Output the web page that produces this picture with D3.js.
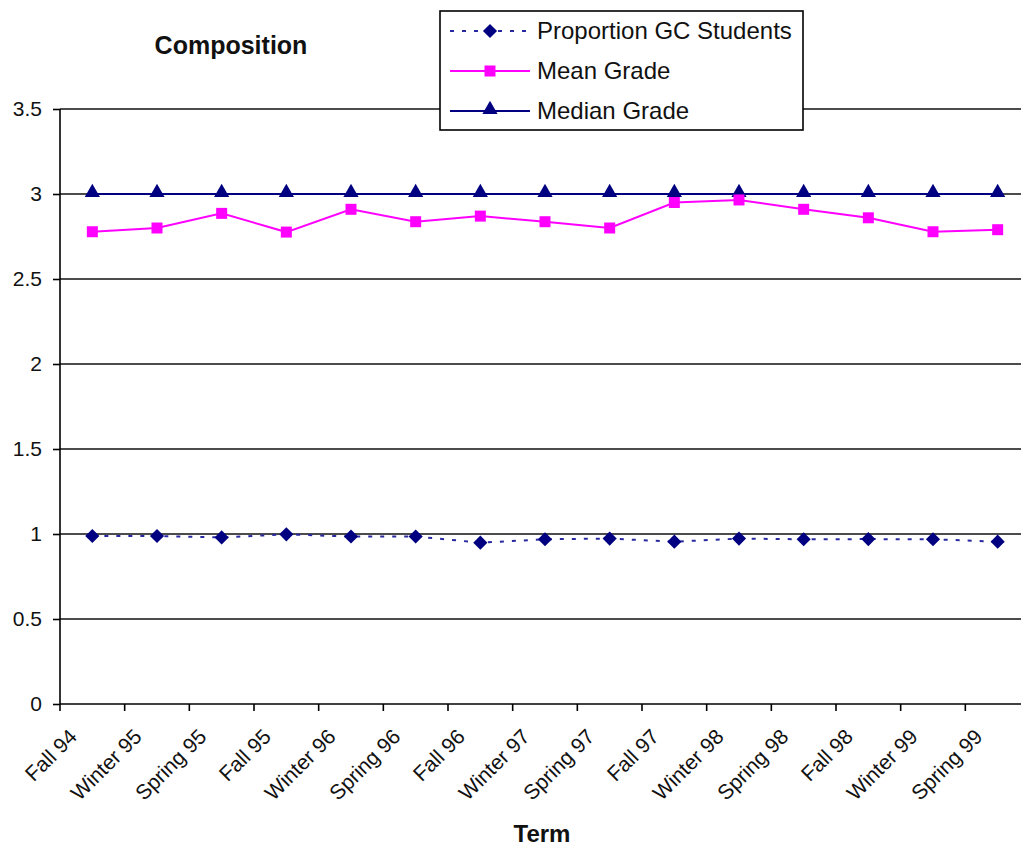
<!DOCTYPE html>
<html><head><meta charset="utf-8">
<script src="https://cdn.jsdelivr.net/npm/d3@7"></script>
<style>
html,body{margin:0;padding:0;background:#fff;}
svg{display:block;font-family:"Liberation Sans",Arial,sans-serif;}
</style></head>
<body>
<svg id="chart" width="1021" height="846"></svg>
<script>
const terms = ["Fall 94","Winter 95","Spring 95","Fall 95","Winter 96","Spring 96","Fall 96","Winter 97","Spring 97","Fall 97","Winter 98","Spring 98","Fall 98","Winter 99","Spring 99"];
const proportionGC = [0.988,0.988,0.98,0.998,0.985,0.985,0.949,0.969,0.973,0.955,0.973,0.969,0.97,0.969,0.955];
const meanGrade = [2.778,2.80,2.886,2.776,2.91,2.837,2.87,2.837,2.80,2.95,2.965,2.91,2.86,2.778,2.79];
const medianGrade = [3,3,3,3,3,3,3,3,3,3,3,3,3,3,3];
const yTicks = [0,0.5,1,1.5,2,2.5,3,3.5];
const seriesNames = ["Proportion GC Students","Mean Grade","Median Grade"];

const svg = d3.select("#chart");
const pLeft = 60, pRight = 1030, pTop = 109, pBottom = 704;

const x = d3.scaleBand().domain(terms).range([pLeft, pRight]).paddingInner(0).paddingOuter(0);
const y = d3.scaleLinear().domain([0, 3.5]).range([pBottom, pTop]);
const cx = d => x(d) + x.bandwidth()/2;

// gridlines
svg.append("g").selectAll("line").data(yTicks.filter(t => t > 0)).join("line")
  .attr("x1", pLeft).attr("x2", pRight)
  .attr("y1", d => y(d)).attr("y2", d => y(d))
  .attr("stroke", "#111").attr("stroke-width", 1.4);

// y axis
const yAxis = svg.append("g").attr("transform", `translate(${pLeft},0)`)
  .call(d3.axisLeft(y).tickValues(yTicks).tickSize(7).tickPadding(11).tickFormat(d3.format("")));
yAxis.select(".domain").attr("stroke", "#000").attr("stroke-width", 1.6).attr("d", `M0,${pBottom}V${pTop}`);
yAxis.selectAll(".tick line").attr("stroke", "#000").attr("stroke-width", 1.6);
yAxis.selectAll(".tick text").attr("font-size", 21).attr("fill", "#111")
  .attr("font-family", '"Liberation Sans",Arial,sans-serif');

// x axis
const xAxis = svg.append("g").attr("transform", `translate(0,${pBottom})`)
  .call(d3.axisBottom(x).tickSize(0).tickFormat(""));
xAxis.select(".domain").attr("stroke", "#000").attr("stroke-width", 1.6).attr("d", `M${pLeft},0H${pRight}`);
const tickPos = d3.range(terms.length + 1).map(i => pLeft + i * x.bandwidth());
svg.append("g").selectAll("line").data(tickPos).join("line")
  .attr("x1", d => d).attr("x2", d => d).attr("y1", pBottom).attr("y2", pBottom + 7)
  .attr("stroke", "#000").attr("stroke-width", 1.6);
svg.append("g").selectAll("text").data(terms).join("text")
  .attr("transform", d => `translate(${cx(d) - 14},${pBottom + 34}) rotate(-45)`)
  .attr("text-anchor", "end")
  .attr("font-size", 21).attr("fill", "#111")
  .text(d => d);

const line = d3.line().x((d, i) => cx(terms[i])).y(d => y(d));
svg.append("path").datum(medianGrade).attr("d", line)
  .attr("fill", "none").attr("stroke", "#000080").attr("stroke-width", 2);
svg.append("path").datum(meanGrade).attr("d", line)
  .attr("fill", "none").attr("stroke", "#FF00FF").attr("stroke-width", 2);
svg.append("path").datum(proportionGC).attr("d", line)
  .attr("fill", "none").attr("stroke", "#2828a0").attr("stroke-width", 2).attr("stroke-dasharray", "4,8");

const triangle = d3.symbol().type(d3.symbolTriangle).size(100);
const square = d3.symbol().type(d3.symbolSquare).size(121);
const diamond = d3.symbol().type(d3.symbolSquare).size(100);

svg.append("g").selectAll("path").data(medianGrade).join("path")
  .attr("d", triangle).attr("transform", (d, i) => `translate(${cx(terms[i])},${y(d) - 1.5})`)
  .attr("fill", "#000080");
svg.append("g").selectAll("path").data(meanGrade).join("path")
  .attr("d", square).attr("transform", (d, i) => `translate(${cx(terms[i])},${y(d)})`)
  .attr("fill", "#FF00FF");
svg.append("g").selectAll("path").data(proportionGC).join("path")
  .attr("d", diamond).attr("transform", (d, i) => `translate(${cx(terms[i])},${y(d)}) rotate(45)`)
  .attr("fill", "#000080");

svg.append("text").attr("x", 231).attr("y", 54).attr("text-anchor", "middle")
  .attr("font-size", 25).attr("font-weight", "bold").attr("fill", "#111").text("Composition");
svg.append("text").attr("x", 542).attr("y", 842).attr("text-anchor", "middle")
  .attr("font-size", 24).attr("font-weight", "bold").attr("fill", "#111").text("Term");

const lg = svg.append("g");
lg.append("rect").attr("x", 440).attr("y", 11).attr("width", 363).attr("height", 119)
  .attr("fill", "#fff").attr("stroke", "#000").attr("stroke-width", 1.6);
const legY = [31, 71, 111];
const legStyles = [
  {stroke: "#2828a0", dash: "4,8", sym: diamond, fill: "#000080", rot: 45},
  {stroke: "#FF00FF", dash: null, sym: square, fill: "#FF00FF", rot: 0},
  {stroke: "#000080", dash: null, sym: triangle, fill: "#000080", rot: 0}
];
seriesNames.forEach((name, i) => {
  const s = legStyles[i];
  lg.append("line").attr("x1", 450).attr("x2", 530).attr("y1", legY[i]).attr("y2", legY[i])
    .attr("stroke", s.stroke).attr("stroke-width", 2).attr("stroke-dasharray", s.dash);
  lg.append("path").attr("d", s.sym)
    .attr("transform", `translate(490,${legY[i] - (i === 2 ? 1.5 : 0)}) rotate(${s.rot})`).attr("fill", s.fill);
  lg.append("text").attr("x", 537).attr("y", legY[i] + 8).attr("font-size", 24).attr("fill", "#111").text(name);
});
</script>
</body></html>
